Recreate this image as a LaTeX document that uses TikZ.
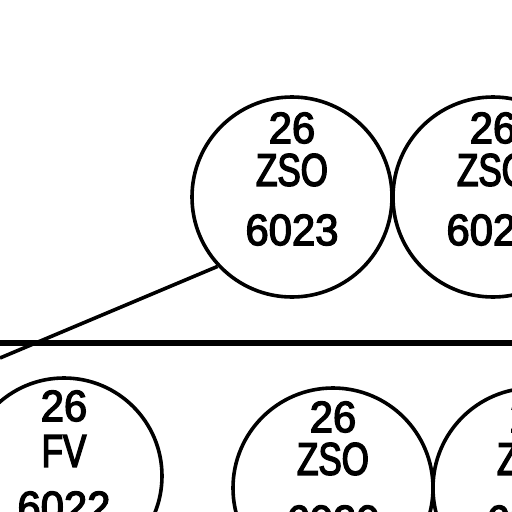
\documentclass[tikz,border=0pt]{standalone}
\usepackage{fontspec}
\setmainfont{Liberation Sans}
\usetikzlibrary{calc}
\tikzset{
  ring/.style={circle, draw, line width=3.6pt, minimum size=200pt, inner sep=0pt},
  lbl/.style={inner sep=0pt, font=\fontsize{44}{44}\selectfont\addfontfeature{FakeBold=3,FakeStretch=0.95}},
  lett/.style={inner sep=0pt, font=\fontsize{46}{46}\selectfont\addfontfeature{FakeBold=3,FakeStretch=0.76}},
  wire/.style={line width=3.6pt},
  bus/.style={line width=5.5pt},
}
\begin{document}
\begin{tikzpicture}[x=1pt,y=-1pt]
\useasboundingbox (0,0) rectangle (512,512);
\clip (0,0) rectangle (512,512);
% rings
\node[ring] (c1) at (292,197) {};
\node[ring] (c2) at (493,197) {};
\node[ring, minimum size=196pt] (c3) at (64,476) {};
\node[ring] (c4) at (333,488) {};
\node[ring] (c5) at (533,488) {};
% labels
\node[lbl]  (c1a) at ($(c1)+(0,-69)$) {26};
\node[lett] (c1b) at ($(c1)+(0,-27)$) {ZSO};
\node[lbl]  (c1c) at ($(c1)+(0,33)$) {6023};
\node[lbl]  (c2a) at ($(c2)+(0,-69)$) {26};
\node[lett] (c2b) at ($(c2)+(0,-27)$) {ZSO};
\node[lbl]  (c2c) at ($(c2)+(0,33)$) {6024};
\node[lbl]  (c3a) at ($(c3)+(0,-70)$) {26};
\node[lett] (c3b) at ($(c3)+(0,-25)$) {FV};
\node[lbl]  (c3c) at ($(c3)+(0,31)$) {6022};
\node[lbl]  (c4a) at ($(c4)+(0,-71)$) {26};
\node[lett] (c4b) at ($(c4)+(0,-29)$) {ZSO};
\node[lbl]  (c4c) at ($(c4)+(0,33)$) {6020};
\node[lbl]  (c5a) at ($(c5)+(0,-71)$) {26};
\node[lett] (c5b) at ($(c5)+(0,-29)$) {ZSO};
\node[lbl]  (c5c) at ($(c5)+(0,33)$) {6021};
% connectors
\coordinate (hl) at (0,343);
\coordinate (hr) at (512,343);
\draw[bus] (hl) -- (hr);
\coordinate (dl) at (0,358);
\draw[wire] (dl) -- (c1.223);
\end{tikzpicture}
\end{document}
